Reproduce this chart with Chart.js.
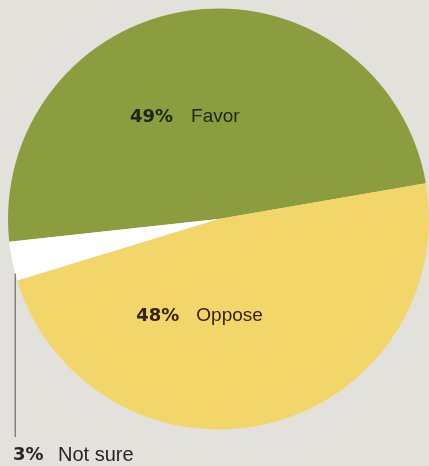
<!DOCTYPE html>
<html>
<head>
<meta charset="utf-8">
<script src="https://cdn.jsdelivr.net/npm/chart.js@4/dist/chart.umd.min.js"></script>
<style>
  html, body { margin: 0; padding: 0; background: #e2e1dc; }
  #wrap { width: 429px; height: 466px; position: relative; }
</style>
</head>
<body>
<div id="wrap"><canvas id="opinionChart"></canvas></div>
<script>
// poll results
const answers = ["Favor", "Oppose", "Not sure"];
const shares = [49, 48, 3];
const sliceColors = ["#8c9d3f", "#f2d66a", "#ffffff"];

// labels: bold percentage followed by the answer
const labelPlugin = {
  id: "pieLabels",
  afterDatasetsDraw(chart) {
    const ctx = chart.ctx;
    const arcs = chart.getDatasetMeta(0).data;
    const cx = arcs[0].x, cy = arcs[0].y, r = arcs[0].outerRadius;

    function drawLabel(pct, word, x, y, color, gap, wordSize) {
      ctx.save();
      ctx.textBaseline = "middle";
      ctx.fillStyle = color;
      ctx.font = "bold 18px 'DejaVu Sans'";
      const num = pct + "%";
      const nw = ctx.measureText(num).width;
      ctx.font = wordSize + "px 'Liberation Sans'";
      const ww = ctx.measureText(word).width;
      const left = x - (nw + gap + ww) / 2;
      ctx.font = "bold 18px 'DejaVu Sans'";
      ctx.fillText(num, left, y);
      ctx.font = wordSize + "px 'Liberation Sans'";
      ctx.fillText(word, left + nw + gap, y);
      ctx.restore();
    }

    drawLabel(shares[0], answers[0], cx - 0.16 * r, cy - 0.485 * r, "#23241a", 18, 19);
    drawLabel(shares[1], answers[1], cx - 0.09 * r, cy + 0.46 * r, "#34240f", 17, 19);

    // leader line from the small slice down to its label
    const small = arcs[2];
    const ex = cx + r * Math.cos(small.startAngle);
    const ey = cy + r * Math.sin(small.startAngle);
    ctx.save();
    ctx.strokeStyle = "#555";
    ctx.lineWidth = 1;
    ctx.beginPath();
    ctx.moveTo(ex - 2, ey - 7);
    ctx.lineTo(ex - 2, 437);
    ctx.stroke();
    ctx.restore();

    ctx.save();
    ctx.textBaseline = "middle";
    ctx.fillStyle = "#262624";
    ctx.font = "bold 18px 'DejaVu Sans'";
    ctx.fillText(shares[2] + "%", 13, 455);
    ctx.font = "20px 'Liberation Sans'";
    ctx.fillText(answers[2], 58, 455);
    ctx.restore();
  }
};

new Chart(document.getElementById("opinionChart"), {
  type: "pie",
  data: {
    labels: answers,
    datasets: [{
      data: shares,
      backgroundColor: sliceColors,
      borderWidth: 0
    }]
  },
  options: {
    responsive: true,
    maintainAspectRatio: false,
    animation: false,
    rotation: 263.8,
    layout: { padding: { top: 8, bottom: 36, left: 8, right: 0 } },
    plugins: {
      legend: { display: false },
      tooltip: { enabled: false }
    }
  },
  plugins: [labelPlugin]
});
</script>
</body>
</html>
